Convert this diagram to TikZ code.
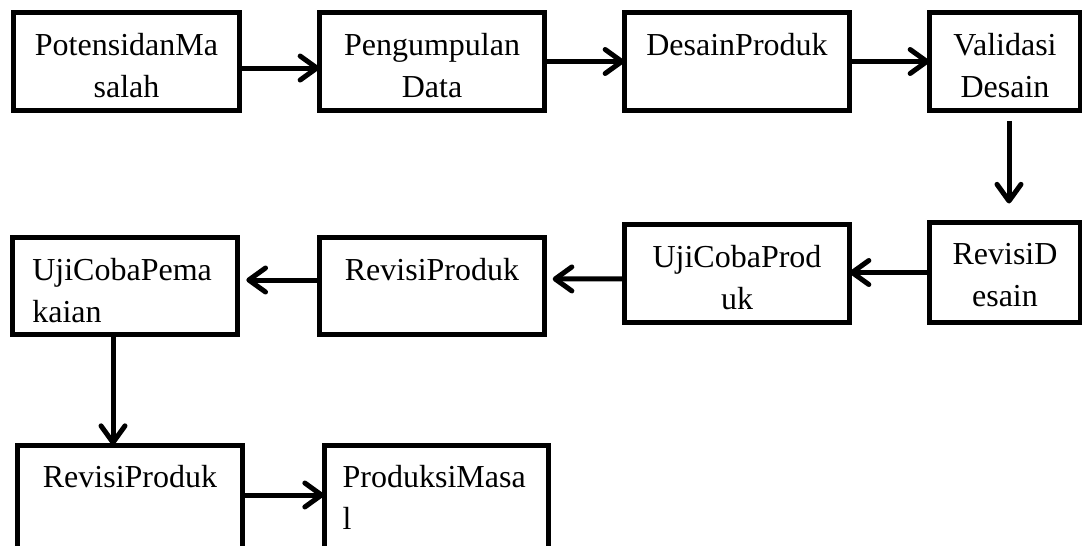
\documentclass[tikz,border=0pt]{standalone}
\usepackage{fontspec}
\setmainfont{Liberation Serif}
\usepackage{tikz}
\usetikzlibrary{arrows.meta,positioning}

\begin{document}
\begin{tikzpicture}[x=0.75pt,y=0.75pt]
                    \tikzstyle{every node}+=[inner sep=0pt,outer sep=0pt]
                    \tikzstyle{box}=[draw=black,line width=3.75pt,minimum width=169pt,minimum height=74pt]
                    \tikzstyle{narrow}=[minimum width=113.5pt]
                    \tikzstyle{txt}=[font=\fontsize{24pt}{31.5pt}\selectfont,align=center,anchor=north]
                    \tikzstyle{txtl}=[txt,align=left,anchor=north west]
                    \tikzstyle{arr}=[line width=3.75pt,-{Straight Barb[length=12.5pt,width=18pt,round]}]
                    \useasboundingbox (0,0) rectangle (1082,-546);
                    \clip (0,0) rectangle (1082,-546);
                    % top row
                    \node [box] (pot) at (126.5,-61.5) {};
                    \node [box] (kumpul) at (432,-61.5) {};
                    \node [box] (desain) at (737,-61.5) {};
                    \node [box,narrow] (valid) at (1005,-61.5) {};
                    \node [txt] (tpot) at ([yshift=-15.5pt]pot.north) {PotensidanMa\\salah};
                    \node [txt] (tkumpul) at ([yshift=-15.5pt]kumpul.north) {Pengumpulan\\Data};
                    \node [txt] (tdesain) at ([yshift=-15.5pt]desain.north) {DesainProduk};
                    \node [txt] (tvalid) at ([yshift=-15.5pt]valid.north) {Validasi\\Desain};
                    % middle row
                    \node [box,narrow,minimum height=75.5pt] (revd) at (1005,-272.5) {};
                    \node [box] (ujiprod) at (737,-273.5) {};
                    \node [box,minimum height=73pt] (revp) at (432,-286) {};
                    \node [box,minimum height=73pt] (ujipakai) at (125,-286) {};
                    \node [txt] (trevd) at ([yshift=-15.5pt]revd.north) {RevisiD\\esain};
                    \node [txt] (tujiprod) at ([yshift=-15.5pt]ujiprod.north) {UjiCobaProd\\uk};
                    \node [txt] (trevp) at ([yshift=-15.5pt]revp.north) {RevisiProduk};
                    \node [txtl] (tujipakai) at ([xshift=15pt,yshift=-15.5pt]ujipakai.north west) {UjiCobaPema\\kaian};
                    % bottom row
                    \node [box,minimum height=82.5pt] (revp2) at (130,-500) {};
                    \node [box,minimum width=168pt,minimum height=82.5pt] (masal) at (436,-500) {};
                    \node [txt] (trevp2) at ([yshift=-15.5pt]revp2.north) {RevisiProduk};
                    \node [txtl] (tmasal) at ([xshift=14pt,yshift=-15.5pt]masal.north west) {ProduksiMasa\\l};
                    % arrows
                    \draw [arr] ([yshift=-4.9pt]pot.east) -- ([yshift=-4.9pt]kumpul.west);
                    \draw [arr] (kumpul) -- (desain);
                    \draw [arr] (desain) -- (valid);
                    \draw [arr,shorten <=7.5pt,shorten >=14pt] ([xshift=3pt]valid.south) -- ([xshift=3pt]revd.north);
                    \draw [arr] (revd.west) -- (ujiprod.east |- revd.west);
                    \draw [arr,shorten >=6pt] ([yshift=-4pt]ujiprod.west) -- ([yshift=5.25pt]revp.east);
                    \draw [arr,shorten >=6.5pt] ([yshift=4.5pt]revp.west) -- ([yshift=4.5pt]ujipakai.east);
                    \draw [arr] ([xshift=-9pt]ujipakai.south) -- ([xshift=-12.75pt]revp2.north);
                    \draw [arr] ([yshift=3.75pt]revp2.east) -- ([yshift=3.75pt]masal.west);
                \end{tikzpicture}
\end{document}
